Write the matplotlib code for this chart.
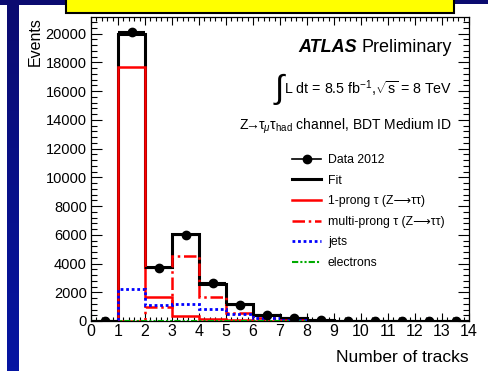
import numpy as np
import matplotlib
matplotlib.use("Agg")
import matplotlib.pyplot as plt
from matplotlib.lines import Line2D
from matplotlib.patches import Rectangle
from matplotlib.ticker import MultipleLocator

plt.rcParams['font.family'] = ['Liberation Sans', 'DejaVu Sans']
plt.rcParams['mathtext.fontset'] = 'custom'
plt.rcParams['mathtext.rm'] = 'Liberation Sans'
plt.rcParams['mathtext.it'] = 'Liberation Sans:italic'
plt.rcParams['mathtext.bf'] = 'Liberation Sans:bold'

# --- binning (number of tracks) ---
edges = np.arange(0, 15)

# --- event counts per bin ---
data_2012 = [0, 20100, 3700, 6000, 2650, 1120, 420, 230, 60, 10, 0, 0, 0, 0]
one_prong = [0, 17660, 1690, 370, 140, 60, 30, 10, 5, 0, 0, 0, 0, 0]
multi_prong = [0, 30, 970, 4510, 1650, 590, 190, 80, 20, 5, 0, 0, 0, 0]
jets = [0, 2250, 1090, 1160, 810, 500, 190, 90, 30, 10, 0, 0, 0, 0]
electrons = [0, 30, 20, 10, 5, 0, 0, 0, 0, 0, 0, 0, 0, 0]

fit = np.array(one_prong) + np.array(multi_prong) + np.array(jets) + np.array(electrons)
centers = 0.5 * (edges[:-1] + edges[1:])
data_err = np.sqrt(np.array(data_2012, dtype=float))

W, H = 488, 371
fig = plt.figure(figsize=(W / 100, H / 100), dpi=100)


def px_rect(x0, y0, x1, y1, **kw):
    # rectangle given in pixels from the top-left corner
    r = Rectangle((x0 / W, 1 - y1 / H), (x1 - x0) / W, (y1 - y0) / H,
                  transform=fig.transFigure, **kw)
    fig.add_artist(r)
    return r


# slide decoration: blue frame and yellow title bar
grad = fig.add_axes([7 / W, 0, 12 / W, 1])
grad.imshow(np.linspace(0, 1, 100).reshape(-1, 1), aspect='auto',
            cmap=matplotlib.colors.LinearSegmentedColormap.from_list('b', ['#0b0b70', '#0515a2']))
grad.axis('off')
px_rect(0, 0, 66, 5, facecolor='#0b0b70', edgecolor='none')
px_rect(453, 0, 488, 4, facecolor='#0b0b70', edgecolor='none')
px_rect(66, -3, 454, 13, facecolor='#ffff00', edgecolor='black', linewidth=1.5)

ax = fig.add_axes([91 / W, (H - 321) / H, (469 - 91) / W, (321 - 17) / H])

ax.stairs(fit, edges, color='black', linewidth=2.2, zorder=2)
ax.stairs(one_prong, edges, color='#ff0000', linewidth=1.8, zorder=3)
ax.stairs(multi_prong, edges, color='#ff0000', linewidth=1.8,
          linestyle=(0, (5, 1.5, 1, 1.5)), zorder=3)
ax.stairs(jets, edges, color='#0000ff', linewidth=2.0, linestyle=(0, (1, 1)), zorder=3)
ax.stairs(electrons, edges, color='#00aa00', linewidth=1.5,
          linestyle=(0, (3, 1, 1, 1, 1, 1)), zorder=3)
ax.errorbar(centers, data_2012, xerr=0.5, yerr=data_err, fmt='o', color='black',
            markersize=6, elinewidth=1.5, capsize=0, zorder=5)

ax.set_xlim(0, 14)
ax.set_ylim(0, 21150)
ax.xaxis.set_major_locator(MultipleLocator(1))
ax.xaxis.set_minor_locator(MultipleLocator(0.2))
ax.yaxis.set_major_locator(MultipleLocator(2000))
ax.yaxis.set_minor_locator(MultipleLocator(400))
ax.tick_params(axis='both', which='both', direction='in', top=True, right=True, width=0.8)
ax.tick_params(axis='x', which='major', length=6, labelsize=11.5, pad=2)
ax.tick_params(axis='x', which='minor', length=3)
ax.tick_params(axis='y', which='major', length=8, labelsize=10.5, pad=3)
ax.tick_params(axis='y', which='minor', length=4)
for s in ax.spines.values():
    s.set_linewidth(0.9)

ax.set_xlabel('Number of tracks', fontsize=12.5, loc='right', labelpad=8)
ax.set_ylabel('Events', fontsize=11.5, loc='top', labelpad=2)

# labels in the upper right
atlas = ax.text(0.955, 0.9, 'Preliminary', transform=ax.transAxes, fontsize=13,
                ha='right', va='center')
ax.annotate('ATLAS ', xy=(0, 0), xycoords=atlas, ha='right', va='bottom',
            fontsize=13, fontweight='bold', fontstyle='italic')
lumi = ax.text(0.955, 0.765, r'L dt = 8.5 fb$^{-1}$,$\sqrt{\mathrm{s}}$ = 8 TeV',
               transform=ax.transAxes, fontsize=10.3, ha='right', va='center')
ax.annotate('\u222b', xy=(0, 0.45), xycoords=lumi, ha='right', va='center',
            fontsize=24, fontweight='light')
ax.text(0.955, 0.64,
        '$\\mathrm{Z}\\!\\!\\rightarrow\\!\\!\\mathrm{\u03c4}_{\\mu}'
        '\\mathrm{\u03c4}_{\\mathrm{had}}$ channel, BDT Medium ID',
        transform=ax.transAxes, fontsize=10, ha='right', va='center')

handles = [
    Line2D([], [], color='black', marker='o', markersize=6, linewidth=1.2),
    Line2D([], [], color='black', linewidth=2.2),
    Line2D([], [], color='#ff0000', linewidth=1.8),
    Line2D([], [], color='#ff0000', linewidth=1.8, linestyle=(0, (5, 1.5, 1, 1.5))),
    Line2D([], [], color='#0000ff', linewidth=2.0, linestyle=(0, (1, 1))),
    Line2D([], [], color='#00aa00', linewidth=1.5, linestyle=(0, (3, 1, 1, 1, 1, 1))),
]
labels = ['Data 2012', 'Fit', '1-prong \u03c4 (Z\u27f6\u03c4\u03c4)',
          'multi-prong \u03c4 (Z\u27f6\u03c4\u03c4)', 'jets', 'electrons']
ax.legend(handles, labels, loc='upper left', bbox_to_anchor=(0.52, 0.565),
          frameon=False, fontsize=8.8, handlelength=2.3, handletextpad=0.6,
          labelspacing=0.7, borderaxespad=0)

fig.savefig('out.png', dpi=100)
